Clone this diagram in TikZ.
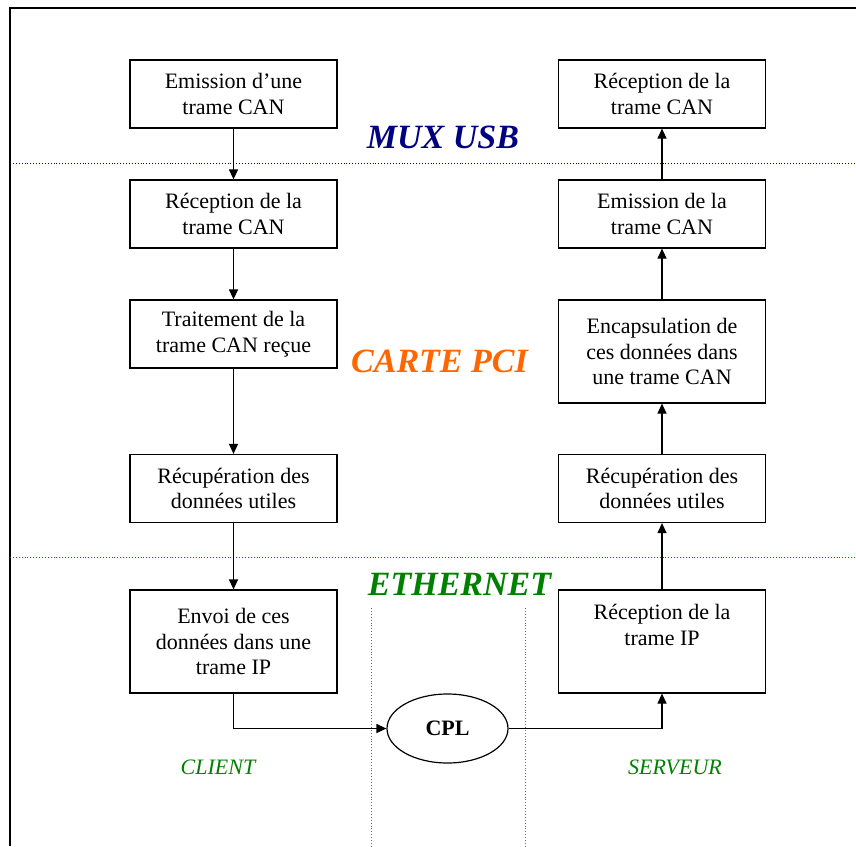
\documentclass[tikz,border=0pt]{standalone}
\usepackage{fontspec}
\setmainfont{Liberation Serif}
\usetikzlibrary{arrows.meta,shapes.geometric}
\definecolor{muxblue}{HTML}{000080}
\definecolor{pciorange}{HTML}{FF6600}
\definecolor{ethgreen}{HTML}{008000}

\begin{document}
\begin{tikzpicture}[x=1pt, y=-1pt, >={Triangle[length=10pt,width=9pt]},
    etape/.style={draw, line width=1.2pt, minimum width=207pt, minimum height=68pt,
        inner sep=0pt, align=center, font=\fontsize{22}{25.5}\selectfont},
    haute/.style={etape, minimum height=103pt},
    zone/.style={font=\fontsize{34}{40}\selectfont\bfseries\itshape},
    poste/.style={text=ethgreen, font=\fontsize{22}{26}\selectfont\itshape},
    sep/.style={line width=0.9pt, dash pattern=on 0.9pt off 2pt}]
    \useasboundingbox (0,0) rectangle (856,846);
    \draw[line width=1.5pt] (856,8) -- (10,8) -- (10,846);
    \draw[sep, muxblue] (10,163) -- (856,163);
    \draw[sep, ethgreen] (10,557) -- (856,557);
    \draw[sep, ethgreen!80] (371,608) -- (371,846);
    \draw[sep, ethgreen!80] (525,608) -- (525,846);

    \node[etape] (l1) at (233.5,94) {Emission d’une\\trame CAN};
    \node[etape] (l2) at (233.5,214) {Réception de la\\trame CAN};
    \node[etape] (l3) at (233.5,334) {Traitement de la\\trame CAN reçue};
    \node[etape] (l4) at (233.5,488.5) {Récupération des\\données utiles};
    \node[haute] (l5) at (233.5,641.5) {Envoi de ces\\données dans une\\trame IP};

    \node[etape] (r1) at (662,94) {Réception de la\\trame CAN};
    \node[etape] (r2) at (662,214) {Emission de la\\trame CAN};
    \node[haute] (r3) at (662,351.5) {Encapsulation de\\ces données dans\\une trame CAN};
    \node[etape] (r4) at (662,488.5) {Récupération des\\données utiles};
    \node[haute] (r5) at (662,641.5) {Réception de la\\trame IP\\\strut};

    \node[draw, ellipse, line width=1.2pt, minimum width=121pt, minimum height=69pt,
        inner sep=0pt, font=\fontsize{22}{26}\selectfont\bfseries] (cpl) at (447.5,728.5) {CPL};

    \foreach \a/\b in {l1/l2,l2/l3,l3/l4,l4/l5,r5/r4,r4/r3,r3/r2,r2/r1}
        \draw[->, line width=1.2pt] (\a) -- (\b);
    \draw[->, line width=1.2pt] (l5) |- (cpl);
    \draw[->, line width=1.2pt] (cpl) -| (r5);

    \node[zone, text=muxblue] (mux) at (443,137) {MUX USB};
    \node[zone, text=pciorange] (pci) at (439.5,361.5) {CARTE PCI};
    \node[zone, text=ethgreen] (eth) at (459.5,584.5) {ETHERNET};
    \node[poste] (client) at (218,767) {CLIENT};
    \node[poste] (serveur) at (675,767) {SERVEUR};
\end{tikzpicture}
\end{document}
